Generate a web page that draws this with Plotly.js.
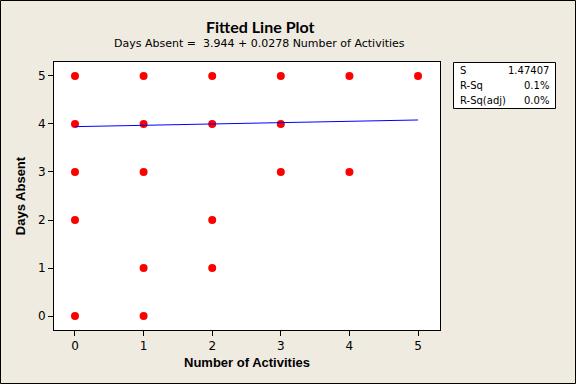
<!DOCTYPE html>
<html><head><meta charset="utf-8">
<script src="https://cdn.plot.ly/plotly-3.0.1.min.js"></script>
<style>html,body{margin:0;padding:0;background:#efebe1;}#chart{width:576px;height:384px;}</style>
</head><body><div id="chart"></div>
<script>
const activities = [0,1,2,3,4,5, 0,1,2,3, 0,1,3,4, 0,2, 1,2, 0,1];
const daysAbsent = [5,5,5,5,5,5, 4,4,4,4, 3,3,3,3, 2,2, 1,1, 0,0];
const intercept = 3.944, slope = 0.0278;
const fitX = [0,5];
const statLabels = ["S","R-Sq","R-Sq(adj)"];
const statValues = ["1.47407","0.1%","0.0%"];

const W=576,H=384,L=54,R=136,T=62,B=54;
const pw=W-L-R, ph=H-T-B;
const px = v => (v-L)/pw;           // pixel x -> paper
const py = v => (H-B-v)/ph;         // pixel y -> paper
const font = "DejaVu Sans, Tahoma, sans-serif";
const boldFont = "Liberation Sans, Arial, sans-serif";

const traces = [
 {x:activities,y:daysAbsent,mode:'markers',type:'scatter',
  marker:{color:'#ff0000',size:8,line:{width:0}},hoverinfo:'skip'},
 {x:fitX,y:fitX.map(v=>intercept+slope*v),mode:'lines',type:'scatter',
  line:{color:'#0000ff',width:1},hoverinfo:'skip'}
];
const annotations = [
 {text:'<b>Fitted Line Plot</b>',x:px(260),y:py(27),xref:'paper',yref:'paper',showarrow:false,
  font:{family:'Lato, sans-serif',size:16,color:'#000'},xanchor:'center',yanchor:'middle'},
 {text:'Days Absent =  3.944 + 0.0278 Number of Activities',x:px(259),y:py(44),xref:'paper',yref:'paper',showarrow:false,
  font:{family:font,size:11,color:'#000'},xanchor:'center',yanchor:'middle'}
];
const rowY=[70,85,100];
statLabels.forEach((s,i)=>{
 annotations.push({text:s,x:px(458),y:py(rowY[i]),xref:'paper',yref:'paper',showarrow:false,xanchor:'left',yanchor:'middle',font:{family:font,size:10,color:'#000'}});
 annotations.push({text:statValues[i],x:px(551),y:py(rowY[i]),xref:'paper',yref:'paper',showarrow:false,xanchor:'right',yanchor:'middle',font:{family:font,size:10,color:'#000'}});
});
const shapes = [
 {type:'rect',xref:'paper',yref:'paper',x0:px(453.5),x1:px(555.5),y0:py(108.5),y1:py(62.5),line:{color:'#000',width:1},fillcolor:'#fff',layer:'below'},
 {type:'rect',xref:'paper',yref:'paper',x0:px(0.5),x1:px(575.5),y0:py(383.5),y1:py(0.5),line:{color:'#000',width:1}}
];
const layout = {
 width:W,height:H,margin:{l:L,r:R,t:T,b:B},
 paper_bgcolor:'#efebe1',plot_bgcolor:'#ffffff',showlegend:false,
 font:{family:font,size:12,color:'#000'},
 xaxis:{range:[-0.306,5.32],tickvals:[0,1,2,3,4,5],ticks:'outside',ticklen:5,tickcolor:'#000',
   showline:true,mirror:true,linecolor:'#000',linewidth:1,showgrid:false,zeroline:false,
   tickfont:{family:font,size:12},
   title:{text:'<b>Number of Activities</b>',font:{family:boldFont,size:13},standoff:5}},
 yaxis:{range:[-0.29,5.29],tickvals:[0,1,2,3,4,5],ticks:'outside',ticklen:5,tickcolor:'#000',
   showline:true,mirror:true,linecolor:'#000',linewidth:1,showgrid:false,zeroline:false,
   tickfont:{family:font,size:12},
   title:{text:'<b>Days Absent</b>',font:{family:boldFont,size:13},standoff:9}},
 annotations:annotations,shapes:shapes
};
Plotly.newPlot('chart',traces,layout,{displayModeBar:false,staticPlot:true});
</script></body></html>
